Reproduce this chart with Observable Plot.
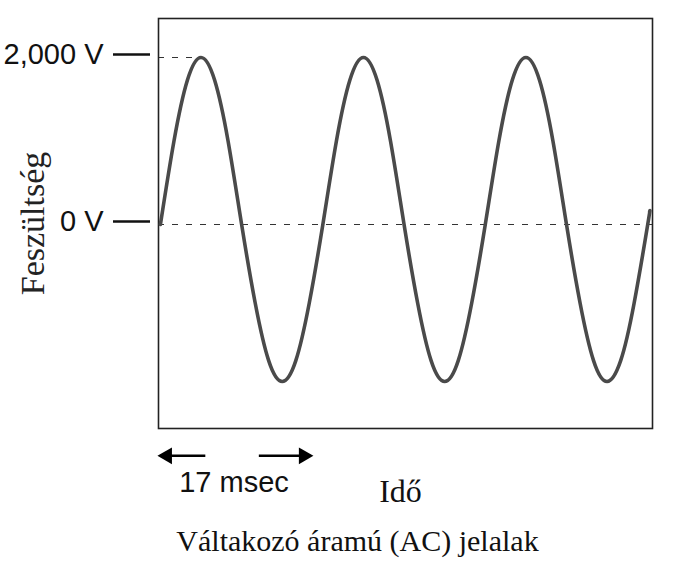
<!DOCTYPE html>
<html>
<head>
<meta charset="utf-8">
<script src="https://cdn.jsdelivr.net/npm/d3@7"></script>
<script src="https://cdn.jsdelivr.net/npm/@observablehq/plot@0.6"></script>
<style>
  html, body { margin: 0; padding: 0; background: #fff; }
  #chart svg { display: block; }
</style>
</head>
<body>
<div id="chart"></div>
<script>
// Time (ms) and voltage (V)
const timeMs = [
  0, 1.42, 2.83, 4.25, 5.67, 7.08, 8.5, 9.92, 11.33, 12.75, 14.17, 15.58,
  17, 18.42, 19.83, 21.25, 22.67, 24.08, 25.5, 26.92, 28.33, 29.75, 31.17, 32.58,
  34, 35.42, 36.83, 38.25, 39.67, 41.08, 42.5, 43.92, 45.33, 46.75, 48.17, 49.58,
  51, 51.2
];
const volts = [
  0, 1000, 1730, 2000, 1730, 1000, 0, -940, -1630, -1880, -1630, -940,
  0, 1000, 1730, 2000, 1730, 1000, 0, -940, -1630, -1880, -1630, -940,
  0, 1000, 1730, 2000, 1730, 1000, 0, -940, -1630, -1880, -1630, -940,
  0, 150
];
const yTicks = [0, 2000];
const peakTimeMs = 4.25;
const periodArrowsX1 = [4.7, 10.3];
const periodArrowsX2 = [0, 15.7];
const arrowHeadX = [0.7, 15.0];
const arrowHeadRotate = [-90, 90];
const arrowY = -2770;
const periodLabel = "17 msec";
const xLabel = "Idő";
const yLabel = "Feszültség";
const title = "Váltakozó áramú (AC) jelalak";

const wave = timeMs.map((t, i) => ({t, v: volts[i]}));
const sans = "'Liberation Sans', Arial, sans-serif";
const serif = "'Liberation Serif', 'DejaVu Serif', serif";

const chart = Plot.plot({
  width: 677,
  height: 571,
  marginLeft: 158,
  marginRight: 25,
  marginTop: 18,
  marginBottom: 143,
  style: {background: "#fff", color: "#111"},
  x: {domain: [-0.2, 51.5], axis: null},
  y: {domain: [-2443, 2467], axis: null},
  marks: [
    Plot.ruleY([0], {stroke: "#333", strokeWidth: 1.2, strokeDasharray: "6,8"}),
    Plot.ruleY([2000], {x1: -0.2, x2: peakTimeMs, stroke: "#333", strokeWidth: 1.2, strokeDasharray: "6,8"}),
    Plot.frame({stroke: "#222", strokeWidth: 1.6}),
    Plot.line(wave, {x: "t", y: "v", curve: "natural", stroke: "#4a4a4a", strokeWidth: 3.6}),
    Plot.axisY(yTicks, {
      anchor: "left",
      tickSize: 37,
      tickPadding: 10,
      dx: -8,
      dy: -3,
      strokeWidth: 2.5,
      stroke: "#111",
      tickFormat: d => d3.format(",")(d) + " V",
      fontSize: 29,
      fontFamily: sans,
      label: null
    }),
    Plot.link(periodArrowsX1, {x1: d => d, x2: (d, i) => periodArrowsX2[i], y1: arrowY, y2: arrowY, stroke: "#000", strokeWidth: 2.5}),
    Plot.dot(arrowHeadX, {x: d => d, y: arrowY, symbol: "triangle2", r: 8, fill: "#000", stroke: "none", rotate: (d, i) => arrowHeadRotate[i]}),
    Plot.text([periodLabel], {x: 7.7, frameAnchor: "bottom", dy: 63, fontSize: 29, fontFamily: sans, fill: "#111"}),
    Plot.text([xLabel], {frameAnchor: "bottom", dx: -5, dy: 73, fontSize: 32, fontFamily: serif, fill: "#111"}),
    Plot.text([title], {frameAnchor: "bottom", dx: -48, dy: 122, fontSize: 30, fontFamily: serif, fill: "#111"}),
    Plot.text([yLabel], {frameAnchor: "left", textAnchor: "middle", dx: -125, rotate: -90, fontSize: 34, fontFamily: serif, fill: "#222"})
  ]
});
document.getElementById("chart").appendChild(chart);
</script>
</body>
</html>
